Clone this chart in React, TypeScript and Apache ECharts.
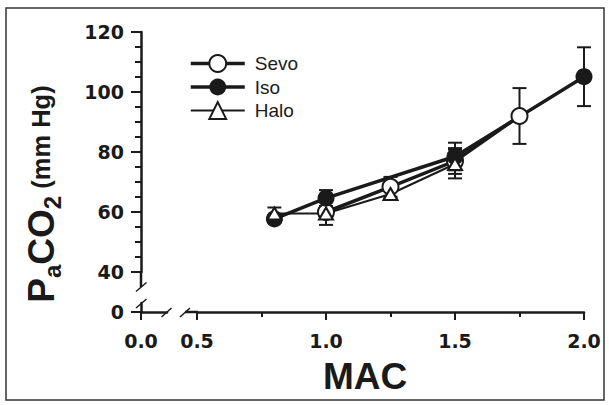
import React, { useEffect, useRef } from 'react';
import * as echarts from 'echarts';

const FONT = "'Liberation Sans', Arial, Helvetica, sans-serif";
const NUM_FONT = "'DejaVu Sans', 'Liberation Sans', sans-serif";
const INK = '#1a1a1a';

// Data (MAC level -> PaCO2 mean and SD, mm Hg)
const seriesNames = ['Sevo', 'Iso', 'Halo'];
const sevoMAC = [1.0, 1.25, 1.5, 1.75];
const sevoMean = [60.0, 68.4, 77.0, 92.0];
const sevoSD = [2.0, 3.3, 4.3, 9.3];
const isoMAC = [0.8, 1.0, 1.5, 2.0];
const isoMean = [57.7, 64.6, 78.5, 105.1];
const isoSD = [1.2, 2.7, 4.6, 9.8];
const haloMAC = [0.8, 1.0, 1.25, 1.5];
const haloMean = [59.5, 59.5, 66.0, 76.0];
const haloSD = [2.0, 3.8, 1.5, 4.8];

const yMin = 40;
const yMax = 120;
const yStep = 20;
const xMin = 0.5;
const xMax = 2.0;
const xStep = 0.5;
const breakYLabel = ['0'];
const breakXLabel = ['0.0'];

const toPoints = (xs: number[], ys: number[]) => xs.map((x, i) => [x, ys[i]]);
const toBars = (xs: number[], ys: number[], sd: number[]) =>
  xs.map((x, i) => [x, ys[i] - sd[i], ys[i] + sd[i]]);

const errorData = [
  ...toBars(sevoMAC, sevoMean, sevoSD),
  ...toBars(isoMAC, isoMean, isoSD),
  ...toBars(haloMAC, haloMean, haloSD),
];

const axisLine = { show: true, onZero: false, lineStyle: { color: INK, width: 2.5 } };
const tickStyle = { color: INK, width: 2 };
const numLabel = { fontFamily: NUM_FONT, fontWeight: 'bold' as const, fontSize: 19, color: INK };

function buildOption(): any {
  return {
    animation: false,
    backgroundColor: '#fff',
    grid: [
      { left: 197, top: 32, width: 387, height: 240 },
      { left: 141, top: 303, width: 26, height: 9 },
    ],
    xAxis: [
      {
        gridIndex: 0,
        type: 'value',
        min: xMin,
        max: xMax,
        interval: xStep,
        offset: 40,
        axisLine,
        axisTick: { show: true, length: 8, lineStyle: tickStyle },
        minorTick: { show: true, splitNumber: 2, length: 5, lineStyle: tickStyle },
        splitLine: { show: false },
        axisLabel: { ...numLabel, margin: 19, formatter: (v: number) => v.toFixed(1) },
        name: 'MAC',
        nameLocation: 'middle',
        nameGap: 46,
        nameTextStyle: {
          fontFamily: FONT,
          fontWeight: 'bold',
          fontSize: 37,
          color: INK,
          padding: [0, 51, 0, 0],
        },
      },
      {
        gridIndex: 1,
        type: 'value',
        min: 0,
        max: 1,
        axisLine,
        axisTick: { show: true, length: 8, lineStyle: tickStyle, customValues: [0] },
        splitLine: { show: false },
        axisLabel: { ...numLabel, margin: 19, customValues: [0], formatter: () => breakXLabel[0] },
      },
    ],
    yAxis: [
      {
        gridIndex: 0,
        type: 'value',
        min: yMin,
        max: yMax,
        interval: yStep,
        offset: 56,
        axisLine,
        axisTick: { show: true, length: 10, lineStyle: tickStyle },
        minorTick: { show: true, splitNumber: 4, length: 6, lineStyle: tickStyle },
        splitLine: { show: false },
        axisLabel: { ...numLabel, margin: 17 },
      },
      {
        gridIndex: 1,
        type: 'value',
        min: 0,
        max: 1,
        axisLine,
        axisTick: { show: true, length: 10, lineStyle: tickStyle, customValues: [0] },
        splitLine: { show: false },
        axisLabel: { ...numLabel, margin: 17, customValues: [0], formatter: () => breakYLabel[0] },
      },
    ],
    legend: {
      orient: 'vertical',
      left: 189,
      top: 54,
      padding: 0,
      itemWidth: 54,
      itemHeight: 21,
      itemGap: 4.5,
      selectedMode: false,
      textStyle: { fontFamily: FONT, fontSize: 19, color: INK, padding: [0, 0, 0, 5] },
      data: [
        { name: seriesNames[0], lineStyle: { width: 3.5, color: INK } },
        { name: seriesNames[1], lineStyle: { width: 3.5, color: INK } },
        { name: seriesNames[2], lineStyle: { width: 2, color: INK } },
      ],
    },
    graphic: [
      {
        type: 'rect',
        shape: { x: 6, y: 8, width: 598, height: 392 },
        style: { fill: 'none', stroke: '#333', lineWidth: 1.5 },
        silent: true,
      },
      // axis extensions to the breaks
      { type: 'line', shape: { x1: 141, y1: 271, x2: 141, y2: 287 }, style: { stroke: INK, lineWidth: 2.5 } },
      { type: 'line', shape: { x1: 185, y1: 312, x2: 198, y2: 312 }, style: { stroke: INK, lineWidth: 2.5 } },
      // break marks
      { type: 'line', shape: { x1: 136, y1: 291.5, x2: 146.5, y2: 282.5 }, style: { stroke: INK, lineWidth: 1.5 } },
      { type: 'line', shape: { x1: 136, y1: 308, x2: 146.5, y2: 299 }, style: { stroke: INK, lineWidth: 1.5 } },
      { type: 'line', shape: { x1: 161.5, y1: 317, x2: 171.5, y2: 308 }, style: { stroke: INK, lineWidth: 1.5 } },
      { type: 'line', shape: { x1: 180, y1: 317, x2: 190, y2: 308 }, style: { stroke: INK, lineWidth: 1.5 } },
      {
        type: 'text',
        x: 41,
        y: 194,
        rotation: Math.PI / 2,
        style: {
          text: '{b|P}{s|a}{b|CO}{s|2}{m| (mm Hg)}',
          align: 'center',
          verticalAlign: 'middle',
          fill: INK,
          rich: {
            b: { fontSize: 37, fontWeight: 'bold', fontFamily: FONT, verticalAlign: 'middle', lineHeight: 47, fill: INK },
            s: { fontSize: 24, fontWeight: 'bold', fontFamily: FONT, verticalAlign: 'bottom', lineHeight: 47, fill: INK },
            m: { fontSize: 25.5, fontWeight: 'bold', fontFamily: FONT, verticalAlign: 'middle', lineHeight: 47, fill: INK },
          },
        },
      },
    ],
    series: [
      {
        type: 'custom',
        name: 'SD',
        xAxisIndex: 0,
        yAxisIndex: 0,
        data: errorData,
        encode: { x: 0, y: [1, 2] },
        clip: false,
        renderItem: (params: any, api: any) => {
          const x = api.value(0);
          const lo = api.coord([x, api.value(1)]);
          const hi = api.coord([x, api.value(2)]);
          const half = 7;
          const st = { stroke: INK, lineWidth: 2 };
          return {
            type: 'group',
            children: [
              { type: 'line', shape: { x1: lo[0], y1: lo[1], x2: hi[0], y2: hi[1] }, style: st },
              { type: 'line', shape: { x1: lo[0] - half, y1: lo[1], x2: lo[0] + half, y2: lo[1] }, style: st },
              { type: 'line', shape: { x1: hi[0] - half, y1: hi[1], x2: hi[0] + half, y2: hi[1] }, style: st },
            ],
          };
        },
      },
      {
        type: 'line',
        name: seriesNames[0],
        data: toPoints(sevoMAC, sevoMean),
        symbol: 'emptyCircle',
        symbolSize: 16,
        clip: false,
        itemStyle: { color: INK, borderWidth: 2.5 },
        lineStyle: { color: INK, width: 3.5 },
      },
      {
        type: 'line',
        name: seriesNames[1],
        data: toPoints(isoMAC, isoMean),
        symbol: 'circle',
        symbolSize: 17,
        clip: false,
        itemStyle: { color: INK },
        lineStyle: { color: INK, width: 3.5 },
      },
      {
        type: 'line',
        name: seriesNames[2],
        data: toPoints(haloMAC, haloMean),
        symbol: 'emptyTriangle',
        symbolSize: [14, 12],
        clip: false,
        itemStyle: { color: INK, borderWidth: 2 },
        lineStyle: { color: INK, width: 2 },
      },
    ],
  };
}

export default function App() {
  const ref = useRef<HTMLDivElement>(null);
  useEffect(() => {
    document.body.style.margin = '0';
    const chart = echarts.init(ref.current!, null, { renderer: 'svg' });
    chart.setOption(buildOption());
    return () => chart.dispose();
  }, []);
  return (
    <div
      ref={ref}
      style={{ width: 609, height: 405, position: 'absolute', left: 0, top: 0, background: '#fff' }}
    />
  );
}
